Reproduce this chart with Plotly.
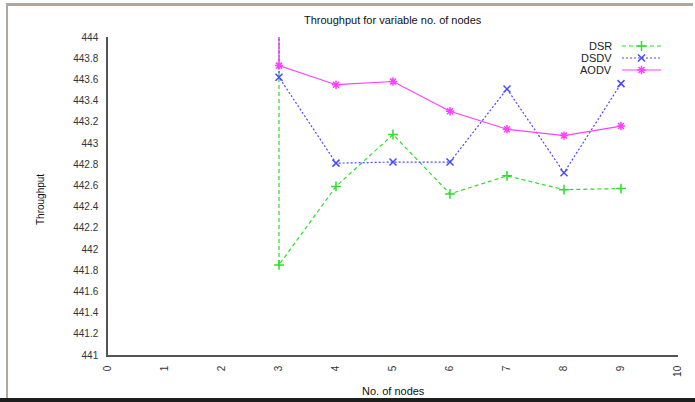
import plotly.graph_objects as go

# ---- data ----
nodes = [3, 3, 4, 5, 6, 7, 8, 9]
dsr = [445.0, 441.85, 442.59, 443.08, 442.52, 442.69, 442.56, 442.57]
dsdv = [445.0, 443.62, 442.81, 442.82, 442.82, 443.51, 442.72, 443.56]
aodv = [445.0, 443.73, 443.55, 443.58, 443.30, 443.13, 443.07, 443.16]
series_names = ["DSR", "DSDV", "AODV"]
x_ticks = [0, 1, 2, 3, 4, 5, 6, 7, 8, 9, 10]
y_ticks = [441, 441.2, 441.4, 441.6, 441.8, 442, 442.2, 442.4, 442.6, 442.8,
           443, 443.2, 443.4, 443.6, 443.8, 444]
y_tick_text = ["441", "441.2", "441.4", "441.6", "441.8", "442", "442.2", "442.4",
               "442.6", "442.8", "443", "443.2", "443.4", "443.6", "443.8", "444"]

# ---- styles ----
W, H = 695, 402
L, R, T, B = 108, 17, 37, 47
FONT = "Liberation Sans, Arial, sans-serif"
styles = [
    dict(color="#2edc2e", dash="4px,3px", symbol="cross-thin-open", msize=7),
    dict(color="#4a4aff", dash="2px,2px", symbol="x-thin-open", msize=7),
    dict(color="#ff40ff", dash="solid", symbol="asterisk-open", msize=7),
]

fig = go.Figure()
for name, vals, st in zip(series_names, [dsr, dsdv, aodv], styles):
    fig.add_trace(go.Scatter(
        x=nodes, y=vals, name=name, mode="lines+markers",
        line=dict(color=st["color"], dash=st["dash"], width=1.2),
        marker=dict(symbol=st["symbol"], size=st["msize"],
                    line=dict(color=st["color"], width=1.5), color=st["color"]),
        showlegend=False, cliponaxis=True,
    ))

# custom gnuplot-style legend (text left, sample right) on an overlay pixel axis
leg_y = [46, 58, 70]
leg_text_right = 614
leg_x0, leg_x1 = 622, 661
for name, st, yy in zip(series_names, styles, leg_y):
    fig.add_trace(go.Scatter(
        x=[leg_x0, leg_x1], y=[yy, yy], mode="lines", xaxis="x2", yaxis="y2",
        line=dict(color=st["color"], dash=st["dash"], width=1.2),
        showlegend=False, hoverinfo="skip"))
    fig.add_trace(go.Scatter(
        x=[(leg_x0 + leg_x1) / 2], y=[yy], mode="markers", xaxis="x2", yaxis="y2",
        marker=dict(symbol=st["symbol"], size=st["msize"],
                    line=dict(color=st["color"], width=1.5), color=st["color"]),
        showlegend=False, hoverinfo="skip"))
    fig.add_annotation(x=leg_text_right, y=yy, xref="x2", yref="y2", text=name,
                       showarrow=False, xanchor="right", yanchor="middle",
                       font=dict(family=FONT, size=11, color="#222"))

def px_x(p):
    return (p - L) / (W - L - R)

def px_y(p):
    return (H - B - p) / (H - T - B)

fig.update_layout(
    width=W, height=H, autosize=False,
    margin=dict(l=L, r=R, t=T, b=B, pad=0),
    paper_bgcolor="white", plot_bgcolor="white",
    font=dict(family=FONT, size=10, color="#333"),
    xaxis=dict(range=[0, 10], tickvals=x_ticks, tickangle=-90,
               showgrid=False, zeroline=False, showline=True,
               linecolor="#555", linewidth=1.5, ticks="outside", ticklen=5,
               tickcolor="rgba(0,0,0,0)", tickfont=dict(size=10, color="#333")),
    yaxis=dict(range=[441, 444], tickvals=y_ticks, ticktext=y_tick_text,
               showgrid=False, zeroline=False, showline=True,
               linecolor="#555", linewidth=1.5, ticks="outside", ticklen=6,
               tickcolor="rgba(0,0,0,0)", tickfont=dict(size=10, color="#333")),
    xaxis2=dict(range=[L, W - R], overlaying="x", visible=False, fixedrange=True),
    yaxis2=dict(range=[H - B, T], overlaying="y", visible=False, fixedrange=True),
    showlegend=False,
)

# titles
fig.add_annotation(x=0.5, y=px_y(20), xref="paper", yref="paper",
                   text="Throughput for variable no. of nodes", showarrow=False,
                   xanchor="center", yanchor="middle",
                   font=dict(family=FONT, size=11, color="#111"))
fig.add_annotation(x=0.5, y=px_y(391), xref="paper", yref="paper",
                   text="No. of nodes", showarrow=False,
                   xanchor="center", yanchor="middle",
                   font=dict(family=FONT, size=11, color="#111"))
fig.add_annotation(x=px_x(40), y=px_y(200), xref="paper", yref="paper",
                   text="Throughput", showarrow=False, textangle=-90,
                   xanchor="center", yanchor="middle",
                   font=dict(family=FONT, size=10, color="#111"))

# screenshot frame
fig.add_shape(type="rect", xref="paper", yref="paper", layer="above",
              x0=px_x(6), x1=px_x(8), y0=px_y(3), y1=px_y(398),
              line=dict(width=0), fillcolor="#b0a8a0")
fig.add_shape(type="rect", xref="paper", yref="paper", layer="above",
              x0=px_x(6), x1=px_x(693), y0=px_y(3), y1=px_y(6),
              line=dict(width=0), fillcolor="#b0a8a0")
fig.add_shape(type="rect", xref="paper", yref="paper", layer="above",
              x0=px_x(0), x1=px_x(695), y0=px_y(398), y1=px_y(402),
              line=dict(width=0), fillcolor="#1e1e1e")

fig.write_html("out.html", config={"displayModeBar": False},
               post_script="document.body.style.margin='0';document.body.style.overflow='hidden';")
